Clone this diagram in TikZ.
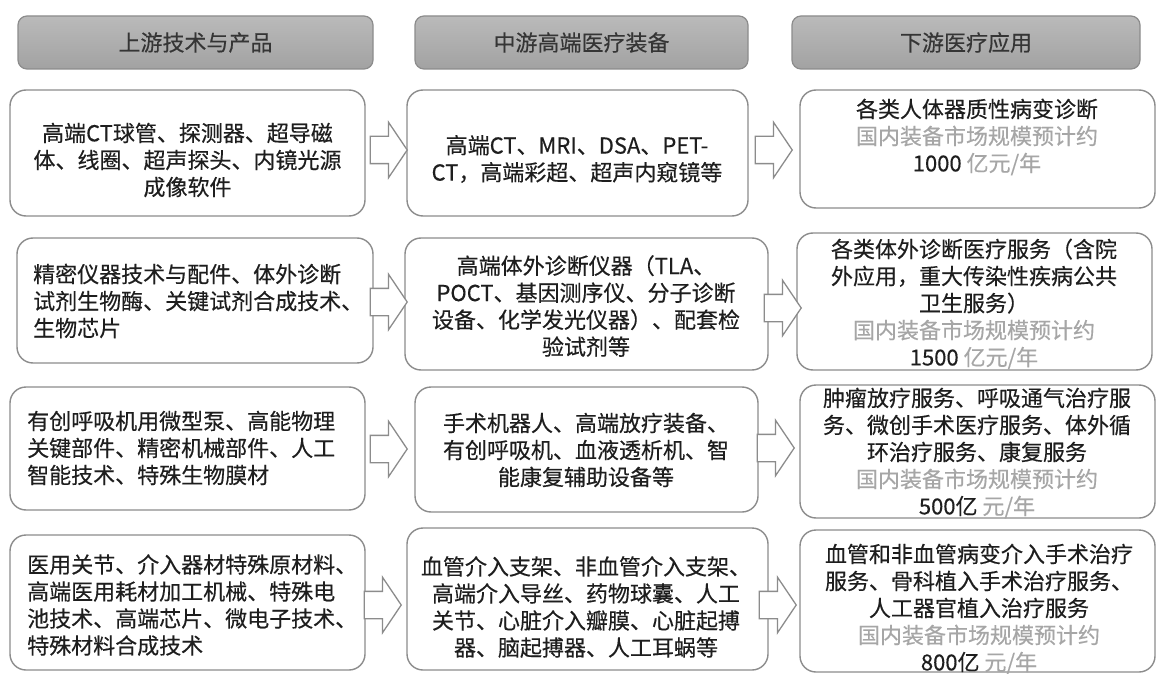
\documentclass[tikz,border=0pt]{standalone}
\usepackage{fontspec}
\setmainfont{Noto Sans CJK SC}[FakeBold=0.35]
\usetikzlibrary{shapes.arrows}
\definecolor{txtc}{HTML}{1E1E1E}
\definecolor{gtxt}{HTML}{A6A6A6}
\definecolor{edgec}{HTML}{8C8C8C}
\definecolor{hdtop}{HTML}{BABABA}
\definecolor{hdbot}{HTML}{A2A2A2}
\begin{document}
\begin{tikzpicture}[x=1pt,y=-1pt,
  hdr/.style={draw=edgec, line width=1.2pt, rounded corners=9pt, top color=hdtop, bottom color=hdbot, inner sep=0pt, outer sep=0pt},
  box/.style={draw=edgec, line width=1.4pt, rounded corners=16pt, fill=white, inner sep=0pt, outer sep=0pt},
  tx/.style={text=txtc, font=\fontsize{22}{27}\selectfont, inner sep=0pt, align=center},
  txl/.style={tx, align=left, anchor=west},
  blk/.style={single arrow, draw=edgec, line width=1.3pt, fill=white, minimum height=37pt, inner xsep=0pt, inner ysep=13pt, single arrow head extend=14pt, single arrow head indent=0pt, single arrow tip angle=112, anchor=tip}
]
\useasboundingbox (0,0) rectangle (1157,674);
\fill[white] (0,0) rectangle (1157,674);

% headers
\node[hdr, minimum width=355pt, minimum height=53pt] (H1) at (195.5,42.5) {};
\node[hdr, minimum width=333pt, minimum height=53pt] (H2) at (581.5,42.5) {};
\node[hdr, minimum width=348pt, minimum height=53pt] (H3) at (966,42.5) {};
\node[tx, text=txtc!90] (h1) at (H1) {上游技术与产品};
\node[tx, text=txtc!90] (h2) at (H2) {中游高端医疗装备};
\node[tx, text=txtc!90] (h3) at (H3) {下游医疗应用};

% boxes
\node[box, minimum width=355pt, minimum height=126pt] (L1) at (187.5,153) {};
\node[box, minimum width=341pt, minimum height=126pt] (M1) at (577.5,153) {};
\node[box, minimum width=355pt, minimum height=118pt] (R1) at (977.5,149) {};
\node[box, minimum width=356pt, minimum height=125pt] (L2) at (195,300.5) {};
\node[box, minimum width=363pt, minimum height=132pt] (M2) at (586.5,304) {};
\node[box, minimum width=355pt, minimum height=137pt] (R2) at (974.5,301.5) {};
\node[box, minimum width=355pt, minimum height=123pt] (L3) at (187.5,448.5) {};
\node[box, minimum width=343pt, minimum height=125pt] (M3) at (586.5,449.5) {};
\node[box, minimum width=355pt, minimum height=133pt] (R3) at (977.5,451.5) {};
\node[box, minimum width=355pt, minimum height=135pt] (L4) at (187.5,602.5) {};
\node[box, minimum width=361pt, minimum height=142pt] (M4) at (587.5,599) {};
\node[box, minimum width=355pt, minimum height=142pt] (R4) at (977.5,601) {};

% arrows
\node[blk] (a1) at (408,150) {};
\node[blk] (b1) at (793,150) {};
\node[blk] (a2) at (408,302) {};
\node[blk] (b2) at (802,308) {};
\node[blk] (a3) at (408,449) {};
\node[blk] (b3) at (795,448) {};
\node[blk] (a4) at (402,605) {};
\node[blk] (b4) at (797,605) {};

% texts row 1
\node[tx] (tL1) at (187.5,160) {高端CT球管、探测器、超导磁\\体、线圈、超声探头、内镜光源\\成像软件};
\node[tx] (tM1) at (577,159) {高端CT、MRI、DSA、PET-\\CT，高端彩超、超声内窥镜等};
\node[tx] (tR1) at (977,137) {各类人体器质性病变诊断\\{\color{gtxt}国内装备市场规模预计约}\\1000 {\color{gtxt}亿元/年}};

% row 2
\node[txl] (tL2) at (33,301) {精密仪器技术与配件、体外诊断\\试剂生物酶、关键试剂合成技术、\\生物芯片};
\node[tx] (tM2) at (586,306) {高端体外诊断仪器（TLA、\\POCT、基因测序仪、分子诊断\\设备、化学发光仪器）、配套检\\验试剂等};
\node[tx] (tR2) at (974,304) {各类体外诊断医疗服务（含院\\外应用，重大传染性疾病公共\\卫生服务）\\{\color{gtxt}国内装备市场规模预计约}\\1500 {\color{gtxt}亿元/年}};

% row 3
\node[txl] (tL3) at (27,448) {有创呼吸机用微型泵、高能物理\\关键部件、精密机械部件、人工\\智能技术、特殊生物膜材};
\node[tx] (tM3) at (586,450) {手术机器人、高端放疗装备、\\有创呼吸机、血液透析机、智\\能康复辅助设备等};
\node[tx] (tR3) at (977,453) {肿瘤放疗服务、呼吸通气治疗服\\务、微创手术医疗服务、体外循\\环治疗服务、康复服务\\{\color{gtxt}国内装备市场规模预计约}\\500亿 {\color{gtxt}元/年}};

% row 4
\node[txl] (tL4) at (27,605) {医用关节、介入器材特殊原材料、\\高端医用耗材加工机械、特殊电\\池技术、高端芯片、微电子技术、\\特殊材料合成技术};
\node[tx] (tM4) at (586,607) {血管介入支架、非血管介入支架、\\高端介入导丝、药物球囊、人工\\关节、心脏介入瓣膜、心脏起搏\\器、脑起搏器、人工耳蜗等};
\node[tx] (tR4) at (979,609) {血管和非血管病变介入手术治疗\\服务、骨科植入手术治疗服务、\\人工器官植入治疗服务\\{\color{gtxt}国内装备市场规模预计约}\\800亿 {\color{gtxt}元/年}};
\end{tikzpicture}
\end{document}
